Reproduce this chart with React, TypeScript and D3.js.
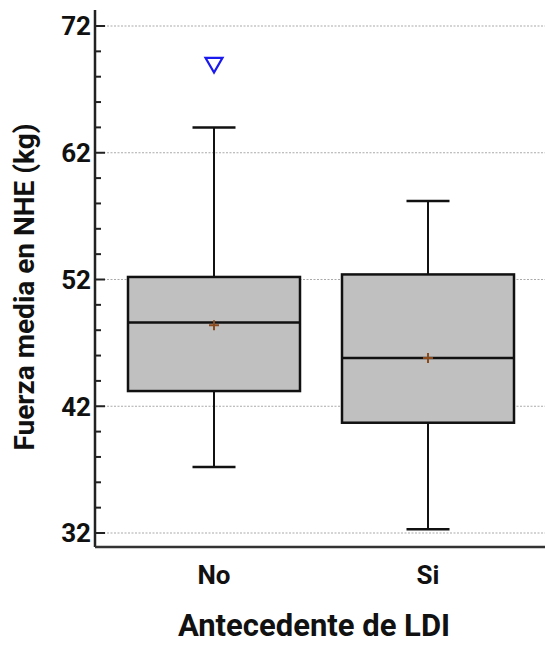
import * as d3 from 'd3';
import { useEffect, useRef } from 'react';

const categories = ['No', 'Si'];
const q1 = [43.2, 40.7];
const median = [48.6, 45.8];
const q3 = [52.2, 52.4];
const whiskerLow = [37.2, 32.3];
const whiskerHigh = [64.0, 58.2];
const means = [48.4, 45.8];
const outliers = [{ cat: 'No', value: 69.1 }];
const yTicks = [32, 42, 52, 62, 72];

const App = () => {
    const svgRef = useRef<SVGSVGElement | null>(null);

    useEffect(() => {
        const width = 545;
        const height = 645;
        const svg = d3.select(svgRef.current);
        svg.selectAll('*').remove();
        svg.attr('width', width).attr('height', height);

        const font = 'Roboto, Arial, sans-serif';
        const axisX = 95;
        const axisBottom = 547;

        const y = d3.scaleLinear().domain([32, 72]).range([533, 26]);
        const x = d3.scalePoint().domain(categories).range([214, 428]);
        const boxW = 172;
        const capW = 43;

        // gridlines
        svg.selectAll('line.grid')
            .data(yTicks)
            .enter()
            .append('line')
            .attr('x1', axisX + 5)
            .attr('x2', width)
            .attr('y1', (d) => y(d))
            .attr('y2', (d) => y(d))
            .attr('stroke', '#aaa')
            .attr('stroke-width', 1.2)
            .attr('stroke-dasharray', '2,1.5');

        // minor ticks
        const minor = d3.range(32, 72.1, 2);
        svg.selectAll('line.tick')
            .data(minor)
            .enter()
            .append('line')
            .attr('x1', axisX)
            .attr('x2', (d) => (d % 10 === 2 ? axisX + 10 : axisX + 6))
            .attr('y1', (d) => y(d))
            .attr('y2', (d) => y(d))
            .attr('stroke', '#222')
            .attr('stroke-width', 2);

        svg.selectAll('text.ytick')
            .data(yTicks)
            .enter()
            .append('text')
            .attr('x', axisX - 4)
            .attr('y', (d) => y(d))
            .attr('dy', '0.36em')
            .attr('text-anchor', 'end')
            .style('font-family', font)
            .style('font-weight', 'bold')
            .style('font-size', '26px')
            .style('fill', '#111')
            .text((d) => d);

        const groups = svg
            .selectAll('g.box')
            .data(categories)
            .enter()
            .append('g')
            .attr('transform', (d) => `translate(${x(d)},0)`);

        // whiskers
        groups
            .append('line')
            .attr('x1', 0)
            .attr('x2', 0)
            .attr('y1', (d, i) => y(whiskerHigh[i]))
            .attr('y2', (d, i) => y(whiskerLow[i]))
            .attr('stroke', '#111')
            .attr('stroke-width', 2);
        [whiskerHigh, whiskerLow].forEach((arr) => {
            groups
                .append('line')
                .attr('x1', -capW / 2)
                .attr('x2', capW / 2)
                .attr('y1', (d, i) => y(arr[i]))
                .attr('y2', (d, i) => y(arr[i]))
                .attr('stroke', '#111')
                .attr('stroke-width', 2.5);
        });

        groups
            .append('rect')
            .attr('x', -boxW / 2)
            .attr('width', boxW)
            .attr('y', (d, i) => y(q3[i]))
            .attr('height', (d, i) => y(q1[i]) - y(q3[i]))
            .attr('fill', '#c0c0c0')
            .attr('stroke', '#111')
            .attr('stroke-width', 2.5);

        groups
            .append('line')
            .attr('x1', -boxW / 2)
            .attr('x2', boxW / 2)
            .attr('y1', (d, i) => y(median[i]))
            .attr('y2', (d, i) => y(median[i]))
            .attr('stroke', '#111')
            .attr('stroke-width', 2.5);

        // mean markers
        groups
            .append('path')
            .attr('d', (d, i) => {
                const my = y(means[i]);
                return `M-5,${my}H5M0,${my - 5}V${my + 5}`;
            })
            .attr('stroke', '#8a4a1c')
            .attr('stroke-width', 2);

        // outliers
        svg.selectAll('path.out')
            .data(outliers)
            .enter()
            .append('path')
            .attr('d', d3.symbol().type(d3.symbolTriangle).size(125))
            .attr('transform', (d) => `translate(${x(d.cat)},${y(d.value)}) rotate(180)`)
            .attr('fill', 'none')
            .attr('stroke', '#1a1aee')
            .attr('stroke-width', 2.2);

        // axes lines
        svg.append('line')
            .attr('x1', axisX)
            .attr('x2', axisX)
            .attr('y1', 10)
            .attr('y2', axisBottom)
            .attr('stroke', '#222')
            .attr('stroke-width', 2.5);
        svg.append('line')
            .attr('x1', axisX)
            .attr('x2', width)
            .attr('y1', axisBottom)
            .attr('y2', axisBottom)
            .attr('stroke', '#333')
            .attr('stroke-width', 2.5);

        svg.selectAll('text.xtick')
            .data(categories)
            .enter()
            .append('text')
            .attr('x', (d) => x(d) as number)
            .attr('y', 584)
            .attr('text-anchor', 'middle')
            .style('font-family', font)
            .style('font-weight', 'bold')
            .style('font-size', '26px')
            .style('fill', '#111')
            .text((d) => d);

        svg.append('text')
            .attr('x', 314)
            .attr('y', 636)
            .attr('text-anchor', 'middle')
            .style('font-family', font)
            .style('font-weight', 'bold')
            .style('font-size', '31px')
            .style('fill', '#111')
            .text('Antecedente de LDI');

        svg.append('text')
            .attr('transform', 'translate(34,287) rotate(-90)')
            .attr('text-anchor', 'middle')
            .style('font-family', font)
            .style('font-weight', 'bold')
            .style('font-size', '28px')
            .style('fill', '#111')
            .text('Fuerza media en NHE (kg)');
    }, []);

    return <svg ref={svgRef} style={{ position: 'absolute', left: 0, top: 0 }} />;
};

export default App;
